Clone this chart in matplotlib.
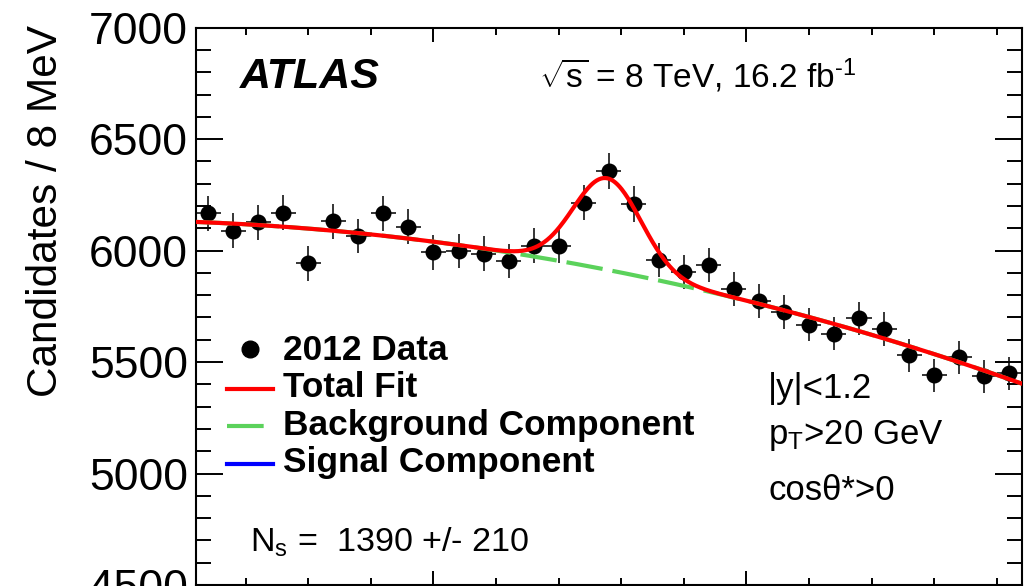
import numpy as np
import matplotlib
matplotlib.use("Agg")
import matplotlib.pyplot as plt
from matplotlib.lines import Line2D
from matplotlib.ticker import MultipleLocator

# ---- data: pi+pi- Upsilon(1S) candidates in 8 MeV bins ----
mass_low = 10224.0
mass_high = 10488.0
bin_width = 8.0
counts = [6167, 6089, 6128, 6171, 5943, 6132, 6065, 6167, 6108,
          5992, 5999, 5987, 5954, 6022, 6020, 6215, 6358,
          6209, 5957, 5905, 5935, 5826, 5773, 5725, 5668,
          5628, 5696, 5648, 5531, 5441, 5521, 5437, 5449]

# ---- fit result: quadratic background + Gaussian signal ----
bkg_ref_mass = 10300.0
bkg_coeffs = [6040.0, -1.806, -0.0084]   # counts per bin, around bkg_ref_mass
n_signal = 1390
n_signal_err = 210
sig_mean = 10355.5
sig_width = 10.8

W, H = 1034, 586
plt.rcParams['font.family'] = ['Liberation Sans', 'DejaVu Sans']
plt.rcParams['mathtext.fontset'] = 'custom'
plt.rcParams['mathtext.rm'] = 'Liberation Sans'
plt.rcParams['mathtext.it'] = 'Liberation Sans:italic'
plt.rcParams['mathtext.bf'] = 'Liberation Sans:bold'


def fx(px):
    return px / W


def fy(py):
    return 1.0 - py / H


fig = plt.figure(figsize=(W / 100, H / 100), dpi=100)
ax = fig.add_axes([fx(195.7), fy(585.0), (1021.7 - 195.7) / W, (585.0 - 27.7) / H])

counts = np.asarray(counts, dtype=float)
centers = mass_low + bin_width * (np.arange(len(counts)) + 0.5)
errors = np.sqrt(counts)

m = np.linspace(mass_low, mass_high, 800)
u = m - bkg_ref_mass
background = bkg_coeffs[0] + bkg_coeffs[1] * u + bkg_coeffs[2] * u ** 2
signal = n_signal * bin_width / (np.sqrt(2 * np.pi) * sig_width) * \
    np.exp(-0.5 * ((m - sig_mean) / sig_width) ** 2)
total = background + signal

# data points with statistical errors
ax.errorbar(centers, counts, yerr=errors, xerr=bin_width / 2, fmt='o',
            color='black', ms=10.5, elinewidth=1.1, capsize=0, zorder=3)

green = '#5bd25b'
ax.plot(m, signal, color='#0000ff', lw=3.0, zorder=4)
ax.plot(m, background, color=green, lw=3.0, dashes=(8.8, 2.4), zorder=4)
ax.plot(m, total, color='#ff0000', lw=3.0, zorder=5)

ax.set_xlim(mass_low, mass_high)
ax.set_ylim(4500, 7000)
ax.xaxis.set_major_locator(MultipleLocator(100))
ax.xaxis.set_minor_locator(MultipleLocator(20))
ax.yaxis.set_major_locator(MultipleLocator(500))
ax.yaxis.set_minor_locator(MultipleLocator(100))
ax.tick_params(axis='both', which='both', direction='in', top=True, right=True,
               width=1.4, labelbottom=False, color='black')
ax.tick_params(axis='y', which='major', length=19.5, labelsize=32, pad=5.5)
ax.tick_params(axis='y', which='minor', length=10.5)
ax.tick_params(axis='x', which='major', length=10)
ax.tick_params(axis='x', which='minor', length=5)
for sp in ax.spines.values():
    sp.set_linewidth(1.5)

fig.text(fx(46), fy(25), 'Candidates / 8 MeV', rotation=90, ha='center',
         va='top', fontsize=30.5)

# labels inside the frame
fig.text(fx(240), fy(88.3), 'ATLAS', fontsize=31, fontweight='bold',
         fontstyle='italic', va='baseline')
fig.text(fx(539), fy(88.3), r'$\sqrt{\mathrm{s}}$ = 8 TeV, 16.2 fb$^{\text{-1}}$',
         fontsize=24, va='baseline')

fig.text(fx(768), fy(398), '|y|<1.2', fontsize=25, va='baseline')
fig.text(fx(768), fy(444), r'p$_{\mathrm{T}}$>20 GeV', fontsize=25, va='baseline')
fig.text(fx(768), fy(500.5), 'cos\u03b8*>0', fontsize=25, va='baseline')
fig.text(fx(250), fy(551.5), r'N$_{\mathrm{s}}$ =  %d +/- %d' % (n_signal, n_signal_err),
         fontsize=24.6, va='baseline')

# legend block
legend_rows = [
    ('2012 Data', dict(marker='o', color='black', ls='none', ms=12)),
    ('Total Fit', dict(color='#ff0000', lw=3.0)),
    ('Background Component', dict(color=green, lw=3.0, dashes=(8.8, 2.4))),
    ('Signal Component', dict(color='#0000ff', lw=3.0)),
]
baselines = [359.5, 397.0, 434.5, 472.0]
for (label, style), yb in zip(legend_rows, baselines):
    ymid = yb - 9.5
    if style.get('marker') == 'o':
        fig.add_artist(Line2D([fx(249.5)], [fy(ymid - 1)], transform=fig.transFigure, **style))
    else:
        fig.add_artist(Line2D([fx(226.7), fx(273.3)], [fy(ymid + 1), fy(ymid + 1)],
                              transform=fig.transFigure, **style))
    fig.text(fx(282.7), fy(yb), label, fontsize=25.4, fontweight='bold', va='baseline')

fig.savefig('out.png', dpi=100)
